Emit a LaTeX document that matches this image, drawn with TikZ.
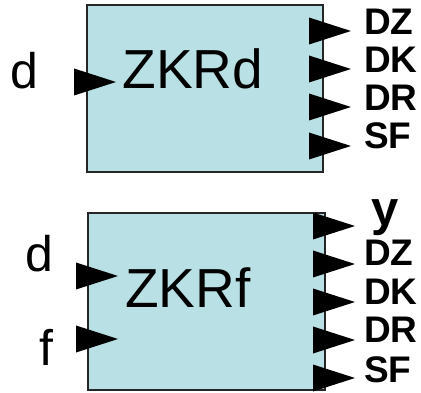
\documentclass[tikz,border=0pt]{standalone}
\usepackage{fontspec}
\setmainfont{Liberation Sans}
\definecolor{boxfill}{RGB}{185,224,228}
\tikzset{
  blockbox/.style={draw=black!85, line width=1.3pt, fill=boxfill},
  bigtxt/.style={inner sep=0pt, font=\fontsize{55}{55}\selectfont},
  intxt/.style={inner sep=0pt, font=\fontsize{50}{50}\selectfont},
  outtxt/.style={inner sep=0pt, anchor=west, font=\fontsize{37}{37}\selectfont\bfseries},
  tri/.style={fill=black}
}
\newcommand{\tri}[2]{\fill[tri] (#1,#2-13.5) -- (#1+42,#2) -- (#1,#2+13.5) -- cycle;}
\begin{document}
\begin{tikzpicture}[x=1pt,y=-1pt]
\useasboundingbox (0,0) rectangle (421,393);
% top block
\draw[blockbox] (87,5) rectangle (323,172);
\node[bigtxt] (zkrd) at (193,69) {ZKRd};
\node[intxt] (d1) at (24,71) {d};
\tri{74}{82}
\foreach \yy in {31,69,107,146} {\tri{309}{\yy}}
\node[outtxt] (dz1) at (364,22) {DZ};
\node[outtxt] (dk1) at (364,60) {DK};
\node[outtxt] (dr1) at (364,98) {DR};
\node[outtxt] (sf1) at (364,136) {SF};
% bottom block
\draw[blockbox] (88,213) rectangle (325,390);
\node[bigtxt] (zkrf) at (188,288) {ZKRf};
\node[intxt] (d2) at (39,254) {d};
\node[intxt] (f2) at (46,347) {f};
\tri{76}{276}
\tri{76}{339}
\foreach \yy in {226,264,302,340,378} {\tri{313}{\yy}}
\node[inner sep=0pt, font=\fontsize{49}{49}\selectfont\bfseries, anchor=base west] (y2) at (371,226) {y};
\node[outtxt] (dz2) at (364,253) {DZ};
\node[outtxt] (dk2) at (364,292) {DK};
\node[outtxt] (dr2) at (364,330) {DR};
\node[outtxt] (sf2) at (364,370) {SF};
\end{tikzpicture}
\end{document}
